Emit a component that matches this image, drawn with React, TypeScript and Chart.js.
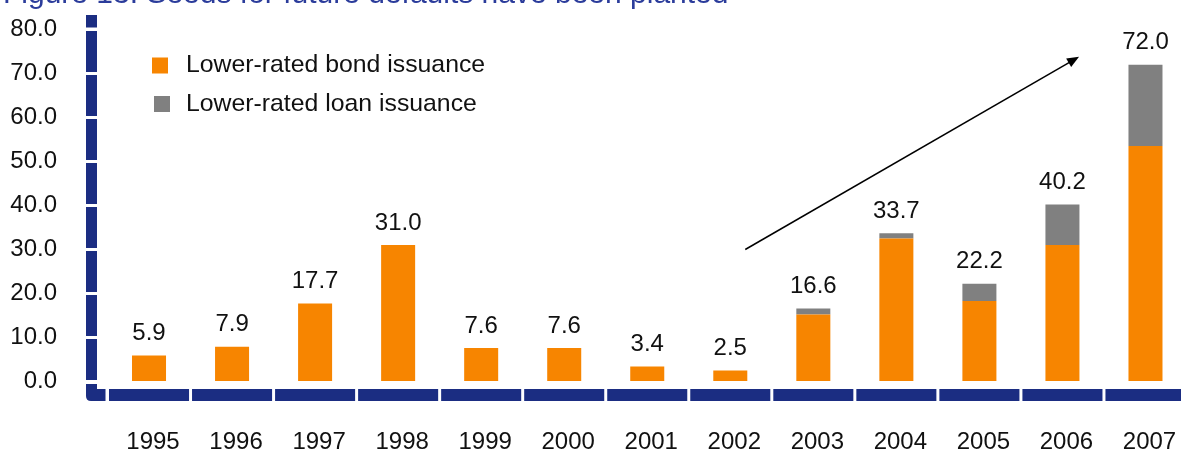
import React, { useEffect, useRef } from 'react';
import { Chart, registerables } from 'chart.js';

Chart.register(...registerables);

// ---- data ----
const years = ['1995', '1996', '1997', '1998', '1999', '2000', '2001', '2002', '2003', '2004', '2005', '2006', '2007'];
const bondIssuance = [5.9, 7.9, 17.7, 31.0, 7.6, 7.6, 3.4, 2.5, 15.2, 32.5, 18.3, 31.0, 53.5];
const loanIssuance = [0, 0, 0, 0, 0, 0, 0, 0, 1.4, 1.2, 3.9, 9.2, 18.5];
const yTickValues = [0, 10, 20, 30, 40, 50, 60, 70, 80];
const seriesLabels = ['Lower-rated bond issuance', 'Lower-rated loan issuance'];
const titleText = 'Figure 13: Seeds for future defaults have been planted';
// trend arrow annotation in data units: [category index, value]
const arrowFrom = [7.18, 30];
const arrowTo = [11.2, 73.8];

const FONT = '"Liberation Sans", Arial, Helvetica, sans-serif';
const FONT_SIZE = 24;
const ORANGE = '#F78500';
const GRAY = '#808080';
const NAVY = '#1B2D82';
const TEXT = '#111111';

const decorPlugin = {
  id: 'decor',
  afterDraw(chart: any) {
    const ctx = chart.ctx as CanvasRenderingContext2D;
    const xs = chart.scales.x;
    const ys = chart.scales.y;
    const area = chart.chartArea;
    ctx.save();

    // ---- y axis segmented bar ----
    const axL = 86;
    const axW = 11;
    ctx.fillStyle = NAVY;
    for (let i = 0; i < yTickValues.length - 1; i++) {
      const top = ys.getPixelForValue(yTickValues[i + 1]) + 1.5;
      const bot = ys.getPixelForValue(yTickValues[i]) - 1.5;
      ctx.fillRect(axL, top, axW, bot - top);
    }
    const topTick = ys.getPixelForValue(yTickValues[yTickValues.length - 1]);
    ctx.fillRect(axL, topTick - 14.5, axW, 12.5);

    // ---- x axis segmented bar ----
    const bandTop = area.bottom + 7.5;
    const bandBot = area.bottom + 19.5;
    const catW = (area.right - area.left) / years.length;
    for (let i = 0; i < years.length; i++) {
      const c = xs.getPixelForValue(i);
      const l = c - catW / 2 + 1.5;
      const r = c + catW / 2 - 1.5;
      ctx.fillRect(l, bandTop, r - l, bandBot - bandTop);
    }
    // corner piece
    const y0 = ys.getPixelForValue(0);
    const rad = 5;
    ctx.beginPath();
    ctx.moveTo(axL, y0 + 2.5);
    ctx.lineTo(axL + axW, y0 + 2.5);
    ctx.lineTo(axL + axW, bandTop);
    ctx.lineTo(area.left - 2, bandTop);
    ctx.lineTo(area.left - 2, bandBot);
    ctx.lineTo(axL + rad, bandBot);
    ctx.quadraticCurveTo(axL, bandBot, axL, bandBot - rad);
    ctx.closePath();
    ctx.fill();

    // ---- total labels ----
    ctx.fillStyle = TEXT;
    ctx.font = `${FONT_SIZE}px ${FONT}`;
    ctx.textAlign = 'center';
    ctx.textBaseline = 'middle';
    for (let i = 0; i < years.length; i++) {
      const total = bondIssuance[i] + loanIssuance[i];
      const px = xs.getPixelForValue(i);
      const py = ys.getPixelForValue(total);
      ctx.fillText(total.toFixed(1), px, py - 22);
    }

    // ---- legend ----
    const legendRows = [65.5, 104];
    chart.data.datasets.forEach((ds: any, i: number) => {
      const cy = legendRows[i];
      ctx.fillStyle = ds.backgroundColor;
      ctx.fillRect(152 + i * 2, cy - 8, 16, 16);
      ctx.fillStyle = TEXT;
      ctx.textAlign = 'left';
      ctx.textBaseline = 'middle';
      ctx.font = `24.8px ${FONT}`;
      ctx.fillText(ds.label, 186, cy);
    });

    // ---- arrow ----
    const ax1 = xs.getPixelForValue(arrowFrom[0]);
    const ay1 = ys.getPixelForValue(arrowFrom[1]);
    const ax2 = xs.getPixelForValue(arrowTo[0]);
    const ay2 = ys.getPixelForValue(arrowTo[1]);
    const ang = Math.atan2(ay2 - ay1, ax2 - ax1);
    const headLen = 12;
    const headW = 5;
    ctx.strokeStyle = '#000';
    ctx.lineWidth = 1.5;
    ctx.beginPath();
    ctx.moveTo(ax1, ay1);
    ctx.lineTo(ax2 - Math.cos(ang) * headLen * 0.8, ay2 - Math.sin(ang) * headLen * 0.8);
    ctx.stroke();
    ctx.fillStyle = '#000';
    ctx.beginPath();
    ctx.moveTo(ax2, ay2);
    const bx = ax2 - Math.cos(ang) * headLen;
    const by = ay2 - Math.sin(ang) * headLen;
    ctx.lineTo(bx + Math.sin(ang) * headW, by - Math.cos(ang) * headW);
    ctx.lineTo(bx - Math.sin(ang) * headW, by + Math.cos(ang) * headW);
    ctx.closePath();
    ctx.fill();

    // ---- clipped title ----
    ctx.fillStyle = '#2B3C9B';
    ctx.font = `30px ${FONT}`;
    ctx.textAlign = 'left';
    ctx.textBaseline = 'alphabetic';
    ctx.fillText(titleText, 3, 3);

    ctx.restore();
  },
};

export default function App() {
  const canvasRef = useRef<HTMLCanvasElement | null>(null);

  useEffect(() => {
    const canvas = canvasRef.current;
    if (!canvas) return;
    const chart = new Chart(canvas, {
      type: 'bar',
      data: {
        labels: years,
        datasets: [
          {
            label: seriesLabels[0],
            data: bondIssuance,
            backgroundColor: ORANGE,
            borderWidth: 0,
            barPercentage: 34 / 83,
            categoryPercentage: 1,
          },
          {
            label: seriesLabels[1],
            data: loanIssuance,
            backgroundColor: GRAY,
            borderWidth: 0,
            barPercentage: 34 / 83,
            categoryPercentage: 1,
          },
        ],
      },
      options: {
        responsive: false,
        animation: false,
        devicePixelRatio: 1,
        layout: { padding: { top: 29.5, left: 0, right: 0, bottom: 0 } },
        plugins: {
          legend: { display: false },
          tooltip: { enabled: false },
          title: { display: false },
        },
        scales: {
          x: {
            stacked: true,
            grid: {
              display: true,
              drawOnChartArea: false,
              drawTicks: true,
              tickLength: 44.5,
              color: 'rgba(0,0,0,0)',
            },
            border: { display: false },
            ticks: {
              color: TEXT,
              font: { family: FONT, size: FONT_SIZE },
              padding: 2,
              labelOffset: 4,
              maxRotation: 0,
              autoSkip: false,
            },
            afterFit: (s: any) => {
              s.height = 70.5;
            },
          },
          y: {
            stacked: true,
            min: 0,
            max: 80,
            grid: {
              display: true,
              drawOnChartArea: false,
              drawTicks: true,
              tickLength: 48.5,
              color: 'rgba(0,0,0,0)',
            },
            border: { display: false },
            afterBuildTicks: (s: any) => {
              s.ticks = yTickValues.map((v) => ({ value: v }));
            },
            ticks: {
              color: TEXT,
              font: { family: FONT, size: FONT_SIZE },
              padding: 2,
              callback: (v: any) => Number(v).toFixed(1),
            },
            afterFit: (s: any) => {
              s.width = 107.5;
            },
          },
        },
      },
      plugins: [decorPlugin],
    });
    return () => chart.destroy();
  }, []);

  return (
    <div
      style={{
        position: 'fixed',
        left: 0,
        top: 0,
        width: 1181,
        height: 452,
        overflow: 'hidden',
        background: '#fff',
      }}
    >
      <canvas ref={canvasRef} width={1187} height={452} style={{ display: 'block', width: 1187, height: 452 }} />
    </div>
  );
}
